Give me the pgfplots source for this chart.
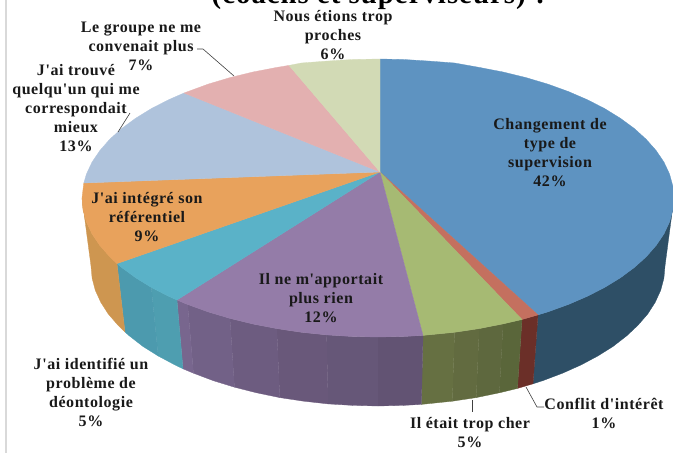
\documentclass[border=0pt]{standalone}
\usepackage{fontspec}
\setmainfont[LetterSpace=3.5,Ligatures=TeXOff]{Liberation Serif}
\usepackage{pgfplots}
\pgfplotsset{compat=1.18}
\definecolor{blueT}{HTML}{5E93C1}
\definecolor{blueS}{HTML}{2E4F66}
\definecolor{redT}{HTML}{C4705F}
\definecolor{redS}{HTML}{6B2F28}
\definecolor{greenT}{HTML}{A6BA73}
\definecolor{greenA}{HTML}{5A663A}
\definecolor{greenB}{HTML}{5E683E}
\definecolor{greenC}{HTML}{626B40}
\definecolor{greenD}{HTML}{667042}
\definecolor{purpT}{HTML}{947CA8}
\definecolor{purpA}{HTML}{625373}
\definecolor{purpB}{HTML}{665778}
\definecolor{purpC}{HTML}{69587A}
\definecolor{purpD}{HTML}{6D5C80}
\definecolor{purpE}{HTML}{726187}
\definecolor{purpF}{HTML}{78668E}
\definecolor{tealT}{HTML}{5AB2C8}
\definecolor{tealA}{HTML}{4E9EB0}
\definecolor{tealB}{HTML}{4C9AAE}
\definecolor{orT}{HTML}{E8A25C}
\definecolor{orS}{HTML}{CE9650}
\definecolor{ltblue}{HTML}{AFC3DC}
\definecolor{pink}{HTML}{E3B0B0}
\definecolor{cream}{HTML}{D2DAB5}
\tikzset{
  lab/.style={font=\fontsize{16}{19}\selectfont\bfseries,align=center,text=black!90,inner sep=0pt},
  sl/.style={fill=#1,draw=#1,line width=0.3pt},
  lead/.style={draw=black!75,line width=0.6pt}
}
\begin{document}
\begin{tikzpicture}
\useasboundingbox (0,0) rectangle (673pt,453pt);
\begin{axis}[
    at={(0,0)},anchor=south west,
    scale only axis,width=673pt,height=453pt,
    xmin=0,xmax=673,ymin=0,ymax=453,y dir=reverse,
    hide axis,clip=false,no marks]
% left frame line
\addplot[draw=black!15,line width=1.5pt] coordinates {(6,0) (6,453)};
% side walls
\addplot[sl=blueS] coordinates {
  (674,198) (672.8,210.1) (669.5,222.1) (663.9,234) (656.1,245.5) (646.2,256.8) (634.3,267.5) (620.4,277.8)
  (604.7,287.4) (587.3,296.3) (568.3,304.5) (547.8,311.9) (538,314.9)
  (533,383.8) (542.7,380.7) (562.5,373.2) (580.9,365) (597.8,356) (613.1,346.4) (626.5,336) (638,325.2)
  (647.8,313.9) (655.2,302.3) (660.7,290.3) (663.9,278.2) (665,266)} --cycle;
\addplot[sl=redS] coordinates {
  (538,314.9) (522,319.5) (517.5,388.4) (533,383.8)} --cycle;
% green side strips
\addplot[sl=greenA] coordinates {
  (522,319.5) (503.1,323.9) (499.4,392.8) (517.5,388.4)} --cycle;
\addplot[sl=greenB] coordinates {
  (503.1,323.9) (479.2,328.6) (476.2,397.6) (499.4,392.8)} --cycle;
\addplot[sl=greenC] coordinates {
  (479.2,328.6) (454.6,332.3) (452.3,401.2) (476.2,397.6)} --cycle;
\addplot[sl=greenD] coordinates {
  (454.6,332.3) (423,335.4) (421.4,404.4) (452.3,401.2)} --cycle;
% purple side strips
\addplot[sl=purpA] coordinates {
  (423,335.4) (403.8,336.5) (378,337) (378,406) (403,405.4) (421.4,404.4)} --cycle;
\addplot[sl=purpB] coordinates {
  (378,337) (352.2,336.5) (326.6,334.9) (328.1,403.9) (353,405.4) (378,406)} --cycle;
\addplot[sl=purpC] coordinates {
  (326.6,334.9) (301.4,332.3) (276.8,328.6) (279.8,397.6) (303.7,401.2) (328.1,403.9)} --cycle;
\addplot[sl=purpD] coordinates {
  (276.8,328.6) (252.9,324) (230,318.4) (234.5,387.2) (256.6,392.8) (279.8,397.6)} --cycle;
\addplot[sl=purpE] coordinates {
  (230,318.4) (208.2,311.9) (187.7,304.5) (193.5,373.2) (213.4,380.7) (234.5,387.2)} --cycle;
\addplot[sl=purpF] coordinates {
  (187.7,304.5) (177,300) (183,368.8) (193.5,373.2)} --cycle;
% teal side strips
\addplot[sl=tealA] coordinates {
  (177,300) (168.7,296.3) (151.3,287.4) (158.2,356) (175.1,365) (183,368.8)} --cycle;
\addplot[sl=tealB] coordinates {
  (151.3,287.4) (135.6,277.7) (121.7,267.5) (117,263.6) (125,332) (129.5,336) (142.9,346.4) (158.2,356)} --cycle;
% orange side
\addplot[sl=orS] coordinates {
  (117,263.6) (109.8,256.8) (99.9,245.5) (92.1,234) (86.5,222.1) (83.1,210.1) (82,198)
  (91,266) (92.1,278.2) (95.3,290.3) (100.8,302.3) (108.2,313.9) (118,325.2) (125,332)} --cycle;
% top slices
\addplot[sl=blueT] coordinates {
  (380,172) (380,59) (403.8,59.5) (429.4,61.1) (454.6,63) (479.2,67.4) (503.1,72) (526,77.6) (547.8,84.1)
  (568.3,91.5) (587.3,99.7) (604.7,108.6) (620.4,118.3) (634.3,128.5) (646.2,139.3) (656.1,150.5) (663.9,162)
  (669.5,173.9) (672.8,185.9) (674,198) (672.8,210.1) (669.5,222.1) (663.9,234) (656.1,245.5) (646.2,256.8)
  (634.3,267.5) (620.4,277.8) (604.7,287.4) (587.3,296.3) (568.3,304.5) (547.8,311.9) (538,314.9)} --cycle;
\addplot[sl=redT] coordinates {
  (380,172) (538,314.9) (522,319.5)} --cycle;
\addplot[sl=greenT] coordinates {
  (380,172) (522,319.5) (503.1,323.9) (479.2,328.6) (454.6,332.3) (423,335.4)} --cycle;
\addplot[sl=purpT] coordinates {
  (380,172) (423,335.4) (403.8,336.5) (378,337) (352.2,336.5) (326.6,334.9) (301.4,332.3) (276.8,328.6)
  (252.9,324) (230,318.4) (208.2,311.9) (187.7,304.5) (177,300)} --cycle;
\addplot[sl=tealT] coordinates {
  (380,172) (177,300) (168.7,296.3) (151.3,287.4) (135.6,277.7) (121.7,267.5) (117,263.6)} --cycle;
\addplot[sl=orT] coordinates {
  (380,172) (117,263.6) (109.8,256.8) (99.9,245.5) (92.1,234) (86.5,222.1) (83.1,210.1) (82,198) (83.8,183)} --cycle;
\addplot[sl=ltblue] coordinates {
  (380,172) (83.8,183) (86.5,173.9) (92.1,162) (99.9,150.5) (109.8,139.2) (121.7,128.5) (135.6,118.3)
  (151.3,108.6) (168.7,99.7) (184,93)} --cycle;
\addplot[sl=pink] coordinates {
  (380,172) (184,93) (208.2,84.1) (230,77.6) (252.9,72) (276.8,67.4) (289,65.4)} --cycle;
\addplot[sl=cream] coordinates {
  (380,172) (289,65.4) (301.4,63) (326.6,61.1) (352.2,59.5) (380,59)} --cycle;
% leader lines
\addplot[lead] coordinates {(197,49) (203,49) (234,76)};
\addplot[lead] coordinates {(130,113) (118,132)};
\addplot[lead] coordinates {(526,387) (537,407) (544,407)};
\addplot[lead] coordinates {(472,400) (472,412)};
% title, cut by the top edge
\node[font=\fontsize{28.8}{32}\selectfont\bfseries,anchor=base,inner sep=0pt,text=black] at (380,3) {(coachs et superviseurs) ?};
% labels
\node[lab] at (333,35) {Nous étions trop\\proches\\6\%};
\node[lab] at (141,46) {Le groupe ne me\\convenait plus\\7\%};
\node[lab] at (76,108) {J'ai trouvé\\quelqu'un qui me\\correspondait\\mieux\\13\%};
\node[lab] at (147,217) {J'ai intégré son\\référentiel\\9\%};
\node[lab] at (321,298) {Il ne m'apportait\\plus rien\\12\%};
\node[lab] at (91,392) {J'ai identifié un\\problème de\\déontologie\\5\%};
\node[lab] at (470,433) {Il était trop cher\\5\%};
\node[lab] at (604,413) {Conflit d'intérêt\\1\%};
\node[lab] at (550,153) {Changement de\\type de\\supervision\\42\%};
\end{axis}
\end{tikzpicture}
\end{document}
